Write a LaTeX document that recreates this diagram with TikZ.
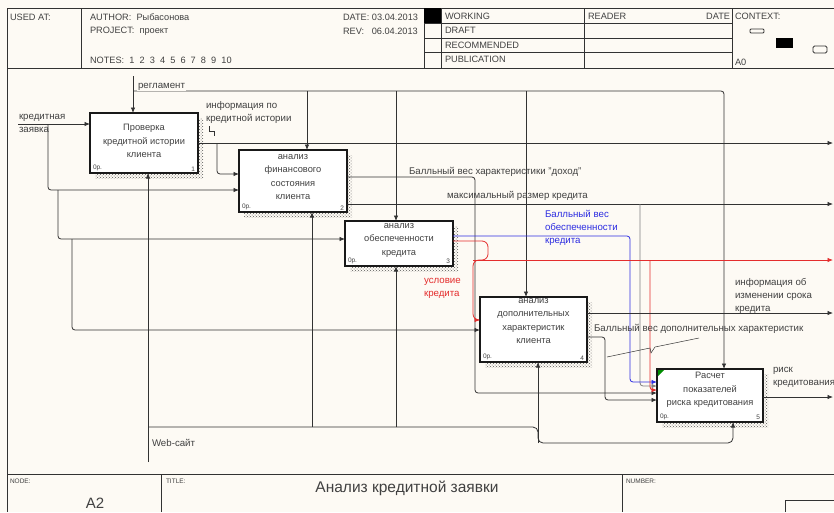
\documentclass[tikz,border=0pt]{standalone}
\usepackage{fontspec}
\setmainfont{Liberation Sans}
\usetikzlibrary{arrows.meta,patterns}
\definecolor{bg}{RGB}{253,250,244}
\definecolor{lnc}{RGB}{50,50,50}
\definecolor{txc}{RGB}{65,65,65}
\definecolor{blc}{RGB}{45,45,225}
\definecolor{rdc}{RGB}{228,45,45}
\begin{document}
\begin{tikzpicture}[x=1pt,y=-1pt,
  every node/.style={inner sep=0pt, outer sep=0pt, text=txc},
  lbl/.style={font=\fontsize{9.7}{13}\selectfont, anchor=west},
  lblnw/.style={font=\fontsize{9.7}{13}\selectfont, anchor=north west, align=left},
  hdrt/.style={font=\fontsize{9.2}{10}\selectfont, anchor=west},
  smallt/.style={font=\fontsize{6.5}{7}\selectfont},
  boxn/.style={draw=black!90, line width=1.6pt, fill=white},
  boxt/.style={align=center, font=\fontsize{9.3}{13.5}\selectfont},
  wire/.style={draw=lnc, line width=0.8pt, rounded corners=3pt},
  warr/.style={wire, -{Latex[length=5.5pt,width=4.5pt]}},
  hdr/.style={draw=lnc, line width=0.8pt},
  shadow/.style={pattern=crosshatch dots, pattern color=black!65}
]
\useasboundingbox (0,0) rectangle (834,512);
\fill[bg] (0,0) rectangle (834,512);

% ---------- header frame ----------
\draw[hdr] (7,8) -- (834,8);
\draw[hdr] (7,68) -- (834,68);
\draw[hdr] (7,8) -- (7,512);
\draw[hdr] (81,8) -- (81,68);
\draw[hdr] (424,8) -- (424,68);
\draw[hdr] (441,8) -- (441,68);
\draw[hdr] (584,8) -- (584,68);
\draw[hdr] (732,8) -- (732,68);
\draw[hdr] (424,23) -- (732,23);
\draw[hdr] (424,38) -- (732,38);
\draw[hdr] (424,52) -- (732,52);
\fill[black] (424,8) rectangle (441,23);
\node[hdrt] (husd) at (10,17) {USED AT:};
\node[hdrt] (haut) at (90,17) {AUTHOR:\ \ Рыбасонова};
\node[hdrt] (hprj) at (90,31) {PROJECT:\ \ проект};
\node[hdrt] (hnot) at (90,60) {NOTES:\ \ 1\ \ 2\ \ 3\ \ 4\ \ 5\ \ 6\ \ 7\ \ 8\ \ 9\ \ 10};
\node[hdrt] (hdat) at (343,17) {DATE:\ 03.04.2013};
\node[hdrt] (hrev) at (343,31) {REV:\ \ \ 06.04.2013};
\node[hdrt] (hwrk) at (445,16) {WORKING};
\node[hdrt] (hdrf) at (445,30) {DRAFT};
\node[hdrt] (hrec) at (445,45) {RECOMMENDED};
\node[hdrt] (hpub) at (445,59) {PUBLICATION};
\node[hdrt] (hrdr) at (588,16) {READER};
\node[hdrt, anchor=east] (hdt2) at (730,16) {DATE};
\node[hdrt] (hctx) at (735,16) {CONTEXT:};
\node[hdrt] (ha0) at (735,62) {A0};
\draw[hdr, rounded corners=1pt] (750,29) rectangle (764,33);
\fill[black] (776,38) rectangle (793,48);
\draw[hdr, rounded corners=1.5pt] (813,46) rectangle (827,53);

% ---------- footer ----------
\draw[hdr] (7,474) -- (834,474);
\draw[hdr] (161,474) -- (161,512);
\draw[hdr] (622,474) -- (622,512);
\draw[hdr] (785,512) |- (834,500);
\node[smallt, anchor=west] (fnod) at (10,481) {NODE:};
\node[font=\fontsize{15}{16}\selectfont] (fa2) at (95,503) {A2};
\node[smallt, anchor=west] (ftit) at (166,481) {TITLE:};
\node[font=\fontsize{15.5}{16}\selectfont] (ftxt) at (407,488) {Анализ кредитной заявки};
\node[smallt, anchor=west] (fnum) at (626,481) {NUMBER:};

% ---------- shadows ----------
\fill[shadow] (95,118) rectangle (203,178);
\fill[shadow] (244,155) rectangle (352,217);
\fill[shadow] (350,226) rectangle (458,271);
\fill[shadow] (485,302) rectangle (592,367);
\fill[shadow] (662,374) rectangle (768,427);

% ---------- boxes ----------
\node[boxn, minimum width=108pt, minimum height=60pt] (b1) at (144,143) {};
\node[boxn, minimum width=108pt, minimum height=62pt] (b2) at (293,181) {};
\node[boxn, minimum width=108pt, minimum height=45pt] (b3) at (399,243.5) {};
\node[boxn, minimum width=107pt, minimum height=65pt] (b4) at (533.5,329.5) {};
\node[boxn, minimum width=106pt, minimum height=53pt] (b5) at (710,395.5) {};
\node[boxt] (t1) at (144,141) {Проверка\\кредитной истории\\клиента};
\node[boxt] (t2) at (293,177) {анализ\\финансового\\состояния\\клиента};
\node[boxt] (t3) at (399,240) {анализ\\обеспеченности\\кредита};
\node[boxt] (t4) at (533.5,321) {анализ\\дополнительных\\характеристик\\клиента};
\node[boxt] (t5) at (710,390) {Расчет\\показателей\\риска кредитования};
\node[smallt, anchor=south west] (p1) at (93,171) {0р.};
\node[smallt, anchor=south east] (n1) at (195,171) {1};
\node[smallt, anchor=south west] (p2) at (242,210) {0р.};
\node[smallt, anchor=south east] (n2) at (344,210) {2};
\node[smallt, anchor=south west] (p3) at (348,264) {0р.};
\node[smallt, anchor=south east] (n3) at (450,264) {3};
\node[smallt, anchor=south west] (p4) at (483,360) {0р.};
\node[smallt, anchor=south east] (n4) at (584,360) {4};
\node[smallt, anchor=south west] (p5) at (660,420) {0р.};
\node[smallt, anchor=south east] (n5) at (760,420) {5};
\fill[green!55!black] (658,370) -- (664,370) -- (658,376) -- cycle;

% ---------- control: регламент ----------
\coordinate (ctop) at (133,76);
\draw[warr] (ctop) -- (133,0 |- b1.north);
\draw[warr] (133,91) -| (724,0 |- b5.north);
\draw[warr] (307,91) -- (307,0 |- b2.north);
\draw[warr] (396,91) -- (396,0 |- b3.north);
\draw[warr] (526,91) -- (526,0 |- b4.north);
\node[lbl, fill=bg, inner xsep=1pt] (lreg) at (137,87) {регламент};

% ---------- input: кредитная заявка ----------
\coordinate (iin) at (18,124);
\draw[warr] (iin) -- (b1.west |- 0,124);
\draw[warr] (48,124) |- (b2.west |- 0,190);
\draw[warr] (58,190) |- (b3.west |- 0,239);
\draw[warr] (72,239) |- (b4.west |- 0,330);
\node[lbl] (lin1) at (19,118) {кредитная};
\node[lbl] (lin2) at (19,130) {заявка};

% ---------- box1 output ----------
\coordinate (o1) at (833,143);
\draw[warr] (b1.east |- 0,143) -- (o1);
\draw[warr] (217,143) |- (b2.west |- 0,174);
\node[lblnw] (linf) at (206,101) {информация по\\кредитной истории};
\draw[wire, line width=0.5pt, rounded corners=0pt] (209,126) -- (209,131) -- (214,131) -- (214,136);

% ---------- mechanism: Web-сайт ----------
\coordinate (wb) at (148,462);
\draw[warr] (wb) -- (148,0 |- b1.south);
\draw[warr, rounded corners=5pt] (148,427) -- (538,427) -- (538,443) -| (733,0 |- b5.south);
\draw[warr] (312,427) -- (312,0 |- b2.south);
\draw[warr] (396,427) -- (396,0 |- b3.south);
\draw[warr] (538,443) -- (538,0 |- b4.south);
\node[lbl] (lweb) at (152,443) {Web-сайт};

% ---------- box2 outputs ----------
\draw[warr] (b2.east |- 0,177) -- (475,177) -- (475,393) -- (b5.west |- 0,393);
\node[lbl] (ldoh) at (409,172) {Балльный вес характеристики "доход"};
\coordinate (o2) at (833,204);
\draw[warr] (b2.east |- 0,204) -- (o2);
\node[lbl] (lmax) at (447,196) {максимальный размер кредита};
\draw[warr, draw=gray] (640,204) |- (b5.west |- 0,386);

% ---------- box3 outputs ----------
\draw[warr, draw=blc] (b3.east |- 0,236) -| (630,382) -- (b5.west |- 0,382);
\node[lblnw, text=blc] (lobe) at (545,210) {Балльный вес\\обеспеченности\\кредита};
\draw[warr, draw=rdc, rounded corners=6pt] (b3.east |- 0,241) -- (488,241) -- (488,260) -- (473,260) -- (473,320) -- (b4.west |- 0,320);
\coordinate (o3) at (833,260);
\draw[warr, draw=rdc, rounded corners=0pt] (473,260) -- (o3);
\draw[warr, draw=rdc] (650,260) |- (b5.west |- 0,390);
\node[lblnw, text=rdc] (lusl) at (424,278) {условие\\кредита};

% ---------- box4 outputs ----------
\coordinate (o4) at (833,313);
\draw[warr] (b4.east |- 0,313) -- (o4);
\node[lblnw] (lsrk) at (735,278) {информация об\\изменении срока\\кредита};
\draw[warr] (b4.east |- 0,337) -- (605,337) |- (b5.west |- 0,400);
\node[lbl] (ldop) at (594,329) {Балльный вес дополнительных характеристик};
\draw[wire, line width=0.5pt, rounded corners=0pt] (607,357) -- (650,348) -- (651,353) -- (655,347) -- (699,338);

% ---------- box5 output ----------
\coordinate (o5) at (833,397);
\draw[warr] (b5.east |- 0,397) -- (o5);
\node[lblnw] (lrsk) at (773,367) {риск\\кредитования};
\end{tikzpicture}
\end{document}
